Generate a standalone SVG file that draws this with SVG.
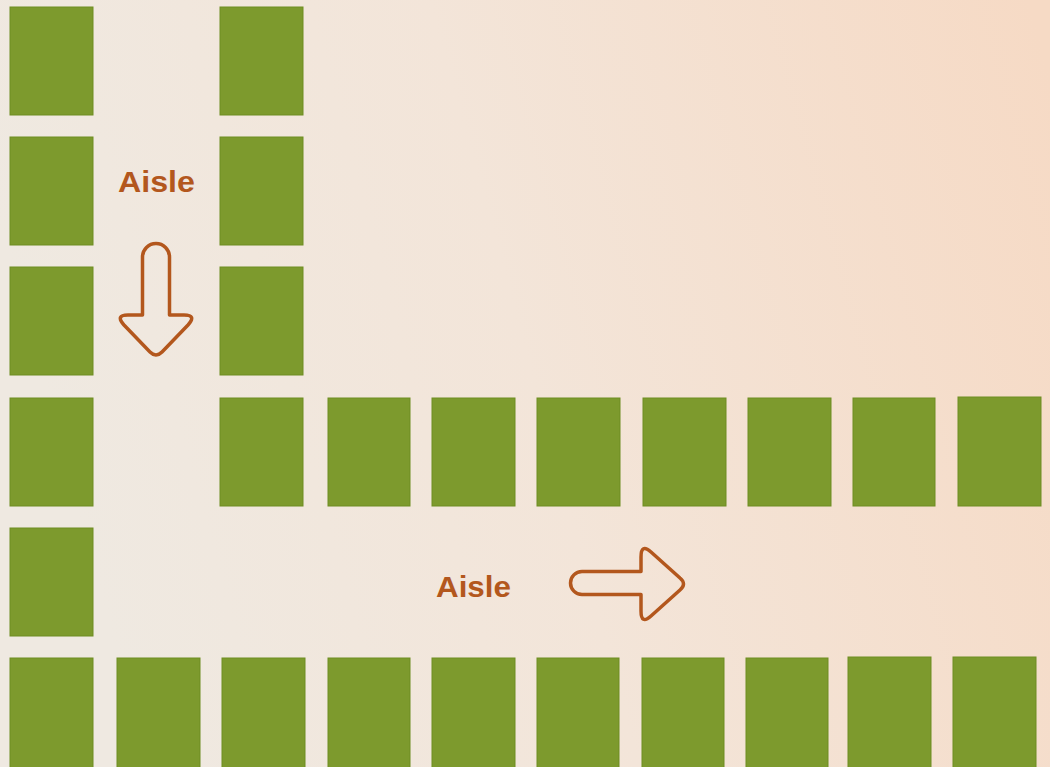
<svg xmlns="http://www.w3.org/2000/svg" width="1050" height="767" viewBox="0 0 1050 767">
<defs>
<linearGradient id="bg" x1="0" y1="0.3" x2="1" y2="0.1">
<stop offset="0" stop-color="#efe9e1"/>
<stop offset="0.45" stop-color="#f3e5d9"/>
<stop offset="1" stop-color="#f6dac5"/>
</linearGradient>
<style>
.rack{fill:#7d9a2d;stroke:#6f8d22;stroke-width:1}
.lbl{font-family:"Liberation Sans",Arial,sans-serif;font-weight:bold;font-size:29px;fill:#b3571d}
.arr{fill:none;stroke:#b3571d;stroke-width:3.5;stroke-linejoin:round}
</style>
</defs>
<rect width="1050" height="767" fill="url(#bg)"/>
<g id="racks">
<g id="r1c1"><rect class="rack" x="10" y="7" width="83" height="108"/></g>
<g id="r1c3"><rect class="rack" x="220" y="7" width="83" height="108"/></g>
<g id="r2c1"><rect class="rack" x="10" y="137" width="83" height="108"/></g>
<g id="r2c3"><rect class="rack" x="220" y="137" width="83" height="108"/></g>
<g id="r3c1"><rect class="rack" x="10" y="267" width="83" height="108"/></g>
<g id="r3c3"><rect class="rack" x="220" y="267" width="83" height="108"/></g>
<g id="r4c1"><rect class="rack" x="10" y="398" width="83" height="108"/></g>
<g id="r4c3"><rect class="rack" x="220" y="398" width="83" height="108"/></g>
<g id="r4c4"><rect class="rack" x="328" y="398" width="82" height="108"/></g>
<g id="r4c5"><rect class="rack" x="432" y="398" width="83" height="108"/></g>
<g id="r4c6"><rect class="rack" x="537" y="398" width="83" height="108"/></g>
<g id="r4c7"><rect class="rack" x="643" y="398" width="83" height="108"/></g>
<g id="r4c8"><rect class="rack" x="748" y="398" width="83" height="108"/></g>
<g id="r4c9"><rect class="rack" x="853" y="398" width="82" height="108"/></g>
<g id="r4c10"><rect class="rack" x="958" y="397" width="83" height="109"/></g>
<g id="r5c1"><rect class="rack" x="10" y="528" width="83" height="108"/></g>
<g id="r6c1"><rect class="rack" x="10" y="658" width="83" height="112"/></g>
<g id="r6c2"><rect class="rack" x="117" y="658" width="83" height="112"/></g>
<g id="r6c3"><rect class="rack" x="222" y="658" width="83" height="112"/></g>
<g id="r6c4"><rect class="rack" x="328" y="658" width="82" height="112"/></g>
<g id="r6c5"><rect class="rack" x="432" y="658" width="83" height="112"/></g>
<g id="r6c6"><rect class="rack" x="537" y="658" width="82" height="112"/></g>
<g id="r6c7"><rect class="rack" x="642" y="658" width="82" height="112"/></g>
<g id="r6c8"><rect class="rack" x="746" y="658" width="82" height="112"/></g>
<g id="r6c9"><rect class="rack" x="848" y="657" width="83" height="113"/></g>
<g id="r6c10"><rect class="rack" x="953" y="657" width="83" height="113"/></g>
</g>
<g id="aisle-vertical">
<text class="lbl" x="118" y="192" textLength="77" lengthAdjust="spacingAndGlyphs">Aisle</text>
<path class="arr" d="M 142.5 315 L 142.5 257 A 13.5 13.5 0 0 1 169.5 257 L 169.5 315 L 184 315 Q 197 315 188 325 L 162 352 Q 156 358 150 352 L 124 325 Q 115 315 128 315 Z"/>
</g>
<g id="aisle-horizontal">
<text class="lbl" x="436" y="597" textLength="75" lengthAdjust="spacingAndGlyphs">Aisle</text>
<path class="arr" d="M 641 571.5 L 582 571.5 A 11.5 11.5 0 0 0 582 594.5 L 641 594.5 L 641 611 Q 641 625 651 616 L 680 590 Q 687 584 680 578 L 651 552 Q 641 543 641 557 Z"/>
</g>
</svg>
